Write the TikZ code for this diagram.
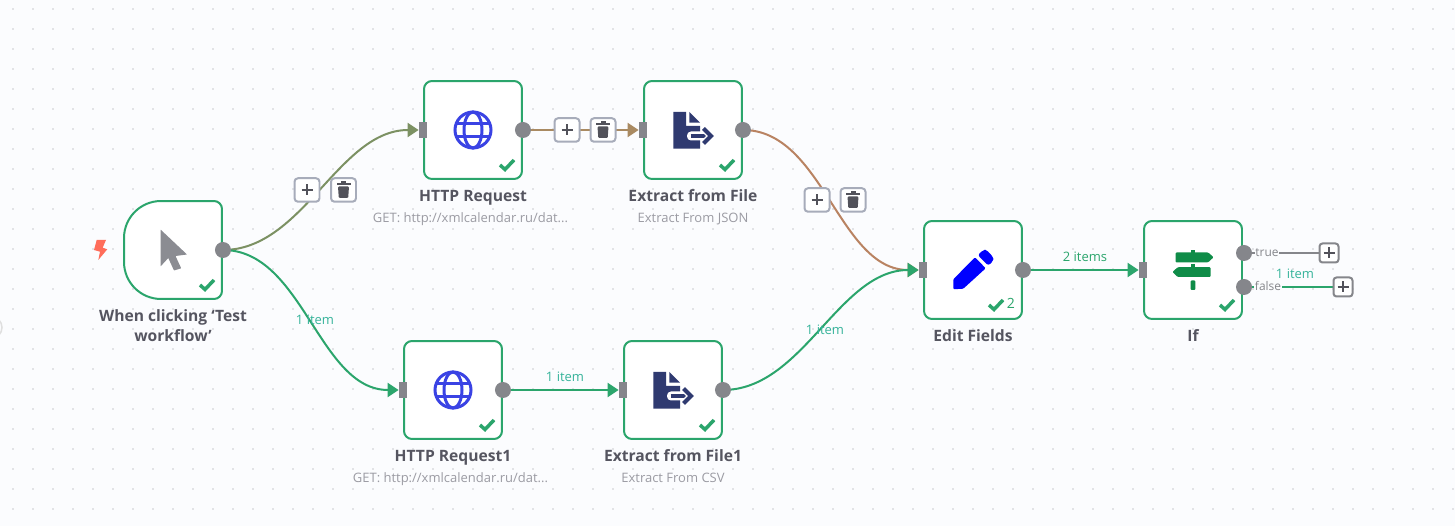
\documentclass[tikz,border=0pt]{standalone}
\usepackage{fontspec}
\setmainfont{Open Sans}
\usepackage{xcolor}
\usepackage{tikz}
\usetikzlibrary{arrows.meta, positioning, calc, backgrounds}

\definecolor{canvas}{HTML}{FBFCFE}
\definecolor{griddot}{HTML}{8F919A}
\definecolor{okgreen}{HTML}{2BA56C}
\definecolor{portgray}{HTML}{85868B}
\definecolor{btnedge}{HTML}{A7ACBA}
\definecolor{glyphgray}{HTML}{52525A}
\definecolor{titletext}{HTML}{555560}
\definecolor{subtext}{HTML}{9B9BA3}
\definecolor{itemtext}{HTML}{35B39A}
\definecolor{olive}{HTML}{7C9163}
\definecolor{tan}{HTML}{A98A62}
\definecolor{clay}{HTML}{B98362}
\definecolor{globeblue}{HTML}{3A43E4}
\definecolor{docnavy}{HTML}{2F3A70}
\definecolor{signgreen}{HTML}{0F8C48}
\definecolor{cursorgray}{HTML}{8B8C92}
\definecolor{boltred}{HTML}{FF6D5A}

\tikzset{
  okcheck/.pic={\draw[okgreen, line width=0.07cm] (27,35) -- (32,39.5) -- (41,30);},
  globeicon/.pic={
    \draw[globeblue, line width=0.06cm] (0,0) circle (18);
    \draw[globeblue, line width=0.06cm] (0,0) ellipse (9 and 18);
    \draw[globeblue, line width=0.06cm] (-17,-6.5) -- (17,-6.5) (-17,6.5) -- (17,6.5);
  },
  docicon/.pic={
    \fill[docnavy] (-19.7,-18) -- (-7,-18) -- (-7,-4) -- (7,-4) -- (7,18.7) -- (-19.7,18.7) -- cycle;
    \fill[docnavy] (-3.7,-18) -- (7,-7.3) -- (-3.7,-7.3) -- cycle;
    \fill[white, rounded corners=0.08cm] (-6,1.5) rectangle (13,10.5);
    \draw[docnavy, line width=0.07cm] (-2.5,6) -- (17,6);
    \draw[white, line width=0.14cm] (10.5,-1.5) -- (18,6) -- (10.5,13.5);
    \draw[docnavy, line width=0.08cm, line join=miter] (10.5,-1.5) -- (18,6) -- (10.5,13.5);
  },
  signicon/.pic={
    \fill[signgreen, rounded corners=0.02cm] (-17.5,-17.5) -- (15.3,-17.5) -- (20.5,-12.7) -- (15.3,-7.7) -- (-17.5,-7.7) -- cycle;
    \fill[signgreen, rounded corners=0.02cm] (-15.3,-2.8) -- (17.5,-2.8) -- (17.5,7) -- (-15.3,7) -- (-20.5,2) -- cycle;
    \fill[signgreen] (-2.4,-20) rectangle (2.4,-17);
    \fill[signgreen] (-2.4,-6) rectangle (2.4,-2);
    \fill[signgreen, rounded corners=0.02cm] (-2.4,10.5) rectangle (2.4,20);
  },
  penicon/.pic={
    \fill[blue, rounded corners=0.02cm] (-19.7,19.3) -- (-19.7,9.3) -- (2,-12.7) -- (12.7,-1.7) -- (-9.7,18.7) -- cycle;
    \fill[blue, rounded corners=0.05cm] (4.7,-15) -- (10.3,-20) -- (13.7,-20) -- (20.3,-12.7) -- (20.3,-9.3) -- (15.3,-4.3) -- cycle;
  },
  cursoricon/.pic={
    \fill[cursorgray, rounded corners=0.01cm] (-12.5,-20.5) -- (14,4.5) -- (2.5,6) -- (8.2,18.3) -- (1,20.5) -- (-4.7,8) -- (-12.5,16.5) -- cycle;
  },
  bolticon/.pic={
    \fill[boltred] (-3.3,-9) -- (6,-9) -- (2.7,-1.3) -- (7.3,0.3) -- (-1.7,11) -- (0,2.7) -- (-6,1) -- cycle;
  },
  plusglyph/.pic={
    \draw[glyphgray, line width=0.055cm] (-5.5,0) -- (5.5,0) (0,-5.5) -- (0,5.5);
  },
  binglyph/.pic={
    \fill[glyphgray, rounded corners=0.02cm] (-5.5,-3.5) -- (5.5,-3.5) -- (4.7,8) -- (-4.7,8) -- cycle;
    \fill[glyphgray] (-7,-7) rectangle (7,-4.7);
    \fill[glyphgray] (-2.5,-8.5) rectangle (2.5,-6);
  }
}

\begin{document}
\begin{tikzpicture}[
  x=0.02cm, y=-0.02cm,
  card/.style={draw=okgreen, fill=white, line width=0.04cm, rounded corners=0.16cm, minimum size=1.96cm, inner sep=0pt, outer sep=0pt},
  outport/.style={circle, fill=portgray, minimum size=0.32cm, inner sep=0pt, xshift=0.02cm},
  inport/.style={fill=portgray, minimum width=0.16cm, minimum height=0.32cm, inner sep=0pt, xshift=-0.02cm},
  flow/.style={line width=0.04cm, -{Triangle[length=0.22cm, width=0.28cm]}},
  button/.style={draw=btnedge, fill=white, line width=0.04cm, rounded corners=0.07cm, minimum width=0.5cm, minimum height=0.47cm, inner sep=0pt, outer sep=0pt},
  addbtn/.style={draw=portgray, fill=white, line width=0.04cm, rounded corners=0.06cm, minimum size=0.38cm, inner sep=0pt, outer sep=0pt},
  title/.style={font=\bfseries\fontsize{8.9}{11.4}\selectfont, text=titletext, align=center, inner sep=0pt},
  subtitle/.style={font=\fontsize{7.4}{9}\selectfont, text=subtext, inner sep=0pt, anchor=base},
  items/.style={font=\fontsize{7.4}{9}\selectfont, text=itemtext, inner sep=0pt, anchor=base},
  branch/.style={font=\fontsize{6.8}{9}\selectfont, text=portgray, fill=canvas, inner sep=0.5pt, anchor=base}
]
\useasboundingbox (0,0) rectangle (1455,526);

% --- Canvas ---
\begin{scope}[on background layer]
  \fill[canvas] (0,0) rectangle (1455,526);
  \foreach \x in {13,33,...,1453} {
    \foreach \y in {9,29,...,519} {
      \fill[griddot] (\x,\y) circle (0.65);
    }
  }
  \draw[gray!25, line width=0.03cm] (-9,327.5) circle (11);
\end{scope}

% --- Cards ---
\node[card, draw=none, fill=none] (n1) at (173,250) {};
\node[card] (n2) at (473,130) {};
\node[card] (n3) at (693,130) {};
\node[card] (n4) at (453,390) {};
\node[card] (n5) at (673,390) {};
\node[card] (n6) at (973,270) {};
\node[card] (n7) at (1193,270) {};

% trigger card has big left corners
\draw[draw=okgreen, fill=white, line width=0.04cm] (n1.north) [rounded corners=0.16cm] -- (n1.north east) -- (n1.south east) [rounded corners=0.74cm] -- (n1.south west) -- (n1.north west) -- (n1.north);

% --- Ports ---
\node[outport] (o1) at (n1.east) {};
\node[outport] (o2) at (n2.east) {};
\node[outport] (o3) at (n3.east) {};
\node[outport] (o4) at (n4.east) {};
\node[outport] (o5) at (n5.east) {};
\node[outport] (o6) at (n6.east) {};
\node[outport] (o7t) at (1243,253) {};
\node[outport] (o7f) at (1243,287) {};
\node[inport] (i2) at (n2.west) {};
\node[inport] (i3) at (n3.west) {};
\node[inport] (i4) at (n4.west) {};
\node[inport] (i5) at (n5.west) {};
\node[inport] (i6) at (n6.west) {};
\node[inport] (i7) at (n7.west) {};

% --- Add buttons behind the If card ---
\node[addbtn] (addt) at (1329,253) {};
\node[addbtn] (addf) at (1343,287) {};

% --- Connectors ---
\begin{scope}[on background layer]
  \draw[flow, olive] (o1.center) .. controls +(80,0) and +(-80,0) .. (i2.west);
  \draw[flow, tan] (o2.center) -- (i3.west);
  \draw[flow, clay] (o3.center) .. controls +(80,0) and +(-80,0) .. (i6.west);
  \draw[flow, okgreen] (o1.center) .. controls +(80,0) and +(-80,0) .. (i4.west);
  \draw[flow, okgreen] (o4.center) -- (i5.west);
  \draw[flow, okgreen] (o5.center) .. controls +(80,0) and +(-80,0) .. (i6.west);
  \draw[flow, okgreen] (o6.center) -- (i7.west);
  \draw[line width=0.04cm, portgray] (o7t.center) -- (addt.west);
  \draw[line width=0.04cm, okgreen] (o7f.center) -- (addf.west);
\end{scope}

% --- Edge buttons ---
\node[button] (p1) at (307,190) {};
\node[button] (d1) at (343.5,190) {};
\node[button] (p2) at (567,130) {};
\node[button] (d2) at (603,130) {};
\node[button] (p3) at (817,200) {};
\node[button] (d3) at (853,200) {};
\foreach \b in {p1,p2,p3,addt,addf} {
  \pic at (\b) {plusglyph};
}
\foreach \b in {d1,d2,d3} {
  \pic at (\b) {binglyph};
}

% --- Icons ---
\pic at (n1) {cursoricon};
\pic at (n2) {globeicon};
\pic at (n3) {docicon};
\pic at (n4) {globeicon};
\pic at (n5) {docicon};
\pic at (n6) {penicon};
\pic at (n7) {signicon};
\pic at (100,249) {bolticon};
\foreach \c in {n1,n2,n3,n4,n5,n7} {
  \pic at (\c) {okcheck};
}
\pic at ([xshift=-0.22cm]n6) {okcheck};
\node[font=\fontsize{8}{9}\selectfont, text=okgreen, inner sep=0pt, anchor=base] (count) at (1011,309) {2};

% --- Titles ---
\node[title] (t1) at (173,326) {When clicking ‘Test\\workflow’};
\node[title, anchor=base] (t2) at (473,202) {HTTP Request};
\node[title, anchor=base] (t3) at (693,202) {Extract from File};
\node[title, anchor=base] (t4) at (453,462) {HTTP Request1};
\node[title, anchor=base] (t5) at (673,462) {Extract from File1};
\node[title, anchor=base] (t6) at (973,342) {Edit Fields};
\node[title, anchor=base] (t7) at (1193,342) {If};

\node[subtitle] (s2) at (470.5,223) {GET: http://xmlcalendar.ru/dat...};
\node[subtitle] (s3) at (693,223) {Extract From JSON};
\node[subtitle] (s4) at (450.5,483) {GET: http://xmlcalendar.ru/dat...};
\node[subtitle] (s5) at (673,483) {Extract From CSV};

% --- Edge labels ---
\node[items] (e1) at (315,325) {1 item};
\node[items] (e2) at (565,382) {1 item};
\node[items] (e3) at (825,335) {1 item};
\node[items, text=okgreen] (e4) at (1085,262) {2 items};
\node[items] (e5) at (1295,279) {1 item};
\node[branch] (bt) at (1267,257) {true};
\node[branch] (bf) at (1268,291) {false};

\end{tikzpicture}
\end{document}
